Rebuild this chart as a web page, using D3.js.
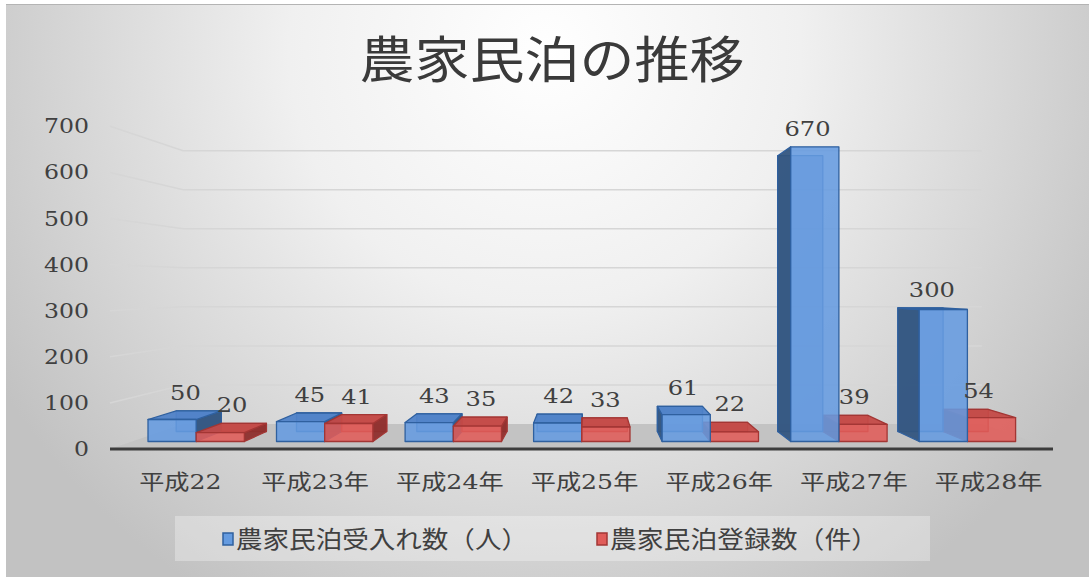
<!DOCTYPE html>
<html lang="ja">
<head>
  <meta charset="utf-8">
  <title>農家民泊の推移</title>
  <script type="text/javascript" src="https://cdn.jsdelivr.net/npm/d3@7/dist/d3.min.js"></script>
  <style>
    body { margin: 0; background: #ffffff; }
    text { font-family: "DejaVu Serif", "Noto Sans CJK JP", serif; fill: #404040; }
    .cjk { font-family: "Noto Sans CJK JP", sans-serif; }
  </style>
</head>
<body>
<script type="text/javascript">
  // chart data
  const categories = ["平成22", "平成23年", "平成24年", "平成25年", "平成26年", "平成27年", "平成28年"];
  const seriesNames = ["農家民泊受入れ数（人）", "農家民泊登録数（件）"];
  const visitors = [50, 45, 43, 42, 61, 670, 300];
  const registrations = [20, 41, 35, 33, 22, 39, 54];
  const yTicks = [0, 100, 200, 300, 400, 500, 600, 700];

  const w = 1089, h = 577;

  // perspective: front plane -> back plane shrinks toward a vanishing point
  const VX = 588, VY = 285.6, K = 0.847;
  const T0 = 0.3, T1 = 0.7;   // bar depth inside the box

  const x0 = d3.scaleBand().domain(categories).range([110, 1053]).paddingInner(0.25).paddingOuter(0.125);
  const x1 = d3.scaleBand().domain(seriesNames).range([0, x0.bandwidth()]);
  const y = d3.scaleLinear().domain([0, 700]).range([449, 126.3]);

  function proj(xf, v, t) {
    let s = 1 - (1 - K) * t;
    return [VX + s * (xf - VX), VY + s * (y(v) - VY)];
  }
  function poly(pts) { return "M" + pts.map(p => p[0].toFixed(1) + "," + p[1].toFixed(1)).join("L") + "Z"; }

  let svg = d3.select("body").append("svg").attr("width", w).attr("height", h);
  let defs = svg.append("defs");

  let bg = defs.append("radialGradient").attr("id", "bg")
    .attr("gradientUnits", "userSpaceOnUse")
    .attr("cx", 545).attr("cy", 50).attr("r", 640);
  bg.append("stop").attr("offset", "0").attr("stop-color", "#ffffff");
  bg.append("stop").attr("offset", "0.4").attr("stop-color", "#f0f0f0");
  bg.append("stop").attr("offset", "1").attr("stop-color", "#c2c2c2");

  svg.append("rect").attr("x", 6).attr("y", 4).attr("width", w - 6).attr("height", h - 4)
    .attr("fill", "url(#bg)");
  svg.append("line").attr("x1", 6).attr("x2", w).attr("y1", 4.5).attr("y2", 4.5)
    .attr("stroke", "#b4b4b4").attr("stroke-width", 1);

  // title
  svg.append("text").attr("class", "cjk")
    .attr("x", 552).attr("y", 78)
    .attr("text-anchor", "middle")
    .attr("font-size", 50)
    .attr("textLength", 385).attr("lengthAdjust", "spacingAndGlyphs")
    .style("fill", "#3a3a3a")
    .text("農家民泊の推移");

  // gridlines: left wall then back wall
  const xL = x0.range()[0], xR = x0.range()[1];
  svg.append("g").selectAll("path")
    .data(yTicks.filter(d => d > 0))
    .enter().append("path")
    .attr("d", d => {
      let a = [xL, y(d)], b = proj(xL, d, 1), c = proj(xR, d, 1);
      return "M" + a + "L" + b + "L" + c;
    })
    .attr("fill", "none")
    .attr("stroke", "#d6d6d6")
    .attr("stroke-width", 1.5);

  // floor
  svg.append("path")
    .attr("d", poly([proj(xL, 0, 0), proj(xR, 0, 0), proj(xR, 0, 1), proj(xL, 0, 1)]))
    .attr("fill", "#c3c3c3");
  svg.append("line")
    .attr("x1", xL).attr("x2", xR).attr("y1", y(0)).attr("y2", y(0))
    .attr("stroke", "#3c3c3c").attr("stroke-width", 3);

  // y axis labels (text in the original is a bit wide, so stretch it)
  let yAxis = d3.axisLeft(y).tickValues(yTicks).tickSize(0).tickPadding(0);
  let gy = svg.append("g").attr("transform", "translate(89,0)").call(yAxis);
  gy.select(".domain").remove();
  gy.selectAll("text").attr("font-size", 20.5).attr("font-family", null)
    .attr("transform", "scale(1.15,1)").style("fill", "#404040");

  // x axis labels
  let xAxis = d3.axisBottom(x0).tickSize(0).tickPadding(0);
  let gx = svg.append("g").attr("transform", "translate(3,474)").call(xAxis);
  gx.select(".domain").remove();
  gx.selectAll("text").attr("font-size", 21).attr("font-family", null)
    .attr("transform", "scale(1.2,1)").style("fill", "#404040");

  // bars
  const styles = {
    "農家民泊受入れ数（人）": { front: "#659be0", top: "#4f82c8", side: "#33557f", back: "#5585c4", stroke: "#2f609f" },
    "農家民泊登録数（件）": { front: "#e05c59", top: "#c44a47", side: "#8e2f2d", back: "#c85250", stroke: "#a33634" }
  };
  let bars = [];
  categories.forEach((c, i) => {
    [visitors[i], registrations[i]].forEach((v, j) => {
      let name = seriesNames[j];
      let a = x0(c) + x1(name), b = a + x1.bandwidth();
      bars.push({ cat: c, name: name, value: v, a: a, b: b, mid: (a + b) / 2 });
    });
  });
  bars.sort((p, q) => Math.abs(q.mid - VX) - Math.abs(p.mid - VX));

  let gBars = svg.append("g");
  bars.forEach(d => {
    let st = styles[d.name];
    let g = gBars.append("g");
    let face = (pts, fill, op) => g.append("path").attr("d", poly(pts))
      .attr("fill", fill).attr("fill-opacity", op)
      .attr("stroke", st.stroke).attr("stroke-width", 1.3).attr("stroke-linejoin", "round");
    // back
    face([proj(d.a, 0, T1), proj(d.b, 0, T1), proj(d.b, d.value, T1), proj(d.a, d.value, T1)], st.back, 0.6);
    // visible side faces toward the vanishing point
    let sx = d.mid < VX ? d.b : d.a;
    face([proj(sx, 0, T0), proj(sx, 0, T1), proj(sx, d.value, T1), proj(sx, d.value, T0)], st.side, 0.95);
    // top when below eye level
    if (y(d.value) > VY) {
      face([proj(d.a, d.value, T0), proj(d.b, d.value, T0), proj(d.b, d.value, T1), proj(d.a, d.value, T1)], st.top, 0.95);
    }
    // front
    face([proj(d.a, 0, T0), proj(d.b, 0, T0), proj(d.b, d.value, T0), proj(d.a, d.value, T0)], st.front, 0.88);
  });

  // data labels
  svg.append("g").selectAll("g")
    .data(bars)
    .enter().append("g")
    .attr("transform", d => {
      let lx = proj(d.mid, d.value, 0.5)[0];
      let ly = Math.min(proj(d.a, d.value, T0)[1], proj(d.a, d.value, T1)[1]) - 11;
      return "translate(" + lx + "," + ly + ")";
    })
    .append("text")
    .attr("text-anchor", "middle")
    .attr("font-size", 21)
    .attr("transform", "scale(1.15,1)")
    .text(d => d.value);

  // legend
  let lg = svg.append("g");
  lg.append("rect").attr("x", 175).attr("y", 516).attr("width", 755).attr("height", 45)
    .attr("fill", "#ffffff").attr("fill-opacity", 0.3);
  const legendX = [223, 597];
  seriesNames.forEach((n, i) => {
    lg.append("rect").attr("x", legendX[i]).attr("y", 533).attr("width", 10).attr("height", 12)
      .attr("fill", styles[n].front).attr("stroke", styles[n].stroke).attr("stroke-width", 1.5);
    lg.append("text").attr("class", "cjk")
      .attr("x", legendX[i] + 13).attr("y", 548)
      .attr("font-size", 24)
      .attr("textLength", i === 0 ? 292 : 268).attr("lengthAdjust", "spacingAndGlyphs")
      .text(n);
  });
</script>
</body>
</html>
